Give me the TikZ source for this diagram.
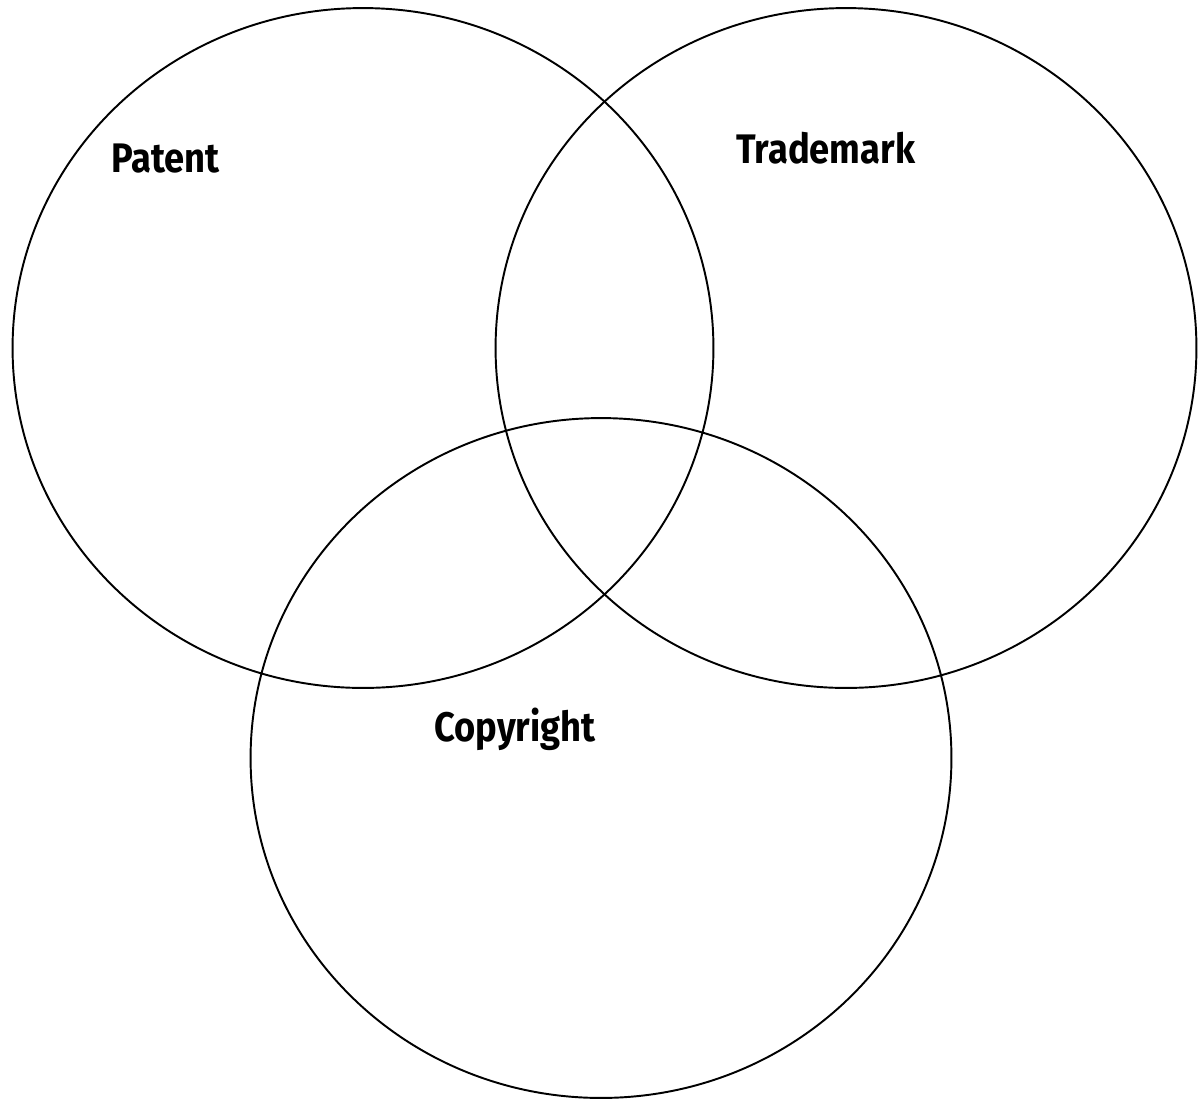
\documentclass[tikz,border=0pt]{standalone}
\usepackage{fontspec}
\setmainfont{Fira Sans}[FakeStretch=0.88]
\usetikzlibrary{shapes.geometric}

\begin{document}
\begin{tikzpicture}[x=0.02cm,y=-0.02cm,font=\fontsize{23.5}{28}\selectfont\bfseries,
c/.style={draw,ellipse,line width=1.1pt,inner sep=0pt,minimum width=14.02cm,minimum height=13.6cm},
l/.style={anchor=base west,inner sep=0pt}]
\useasboundingbox(0,0) rectangle (1199,1100);
\node[c](patentset) at (363,348){};
\node[c](trademarkset) at (846,348){};
\node[c](copyrightset) at (601,758){};
\node[l](patent) at (111,172){Patent};
\node[l](trademark) at (736,163){Trademark};
\node[l](copyright) at (434,741){Copyright};
\end{tikzpicture}
\end{document}
